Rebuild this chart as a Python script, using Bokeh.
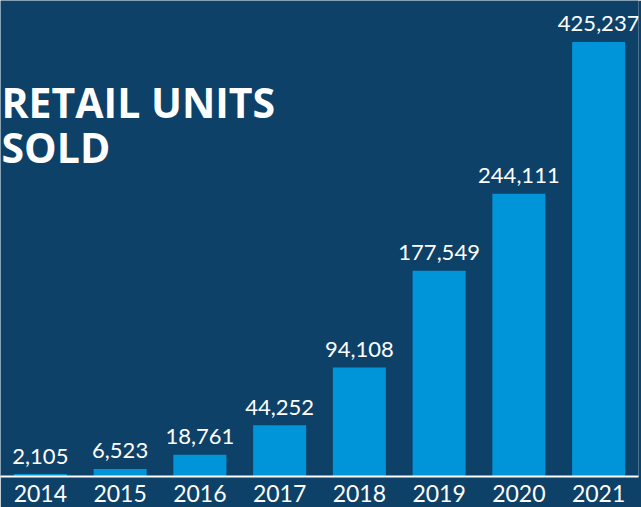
from bokeh.plotting import figure
from bokeh.models import ColumnDataSource, FactorRange, Range1d, Label
from bokeh.core.properties import value
from bokeh.embed import file_html
from bokeh.resources import INLINE

# ---- data ----
years = ["2014", "2015", "2016", "2017", "2018", "2019", "2020", "2021"]
units_sold = [2105, 6523, 18761, 44252, 94108, 177549, 244111, 425237]
# the original graphic truncates the 2021 bar; drawn heights as seen in the picture
bar_heights = [2105, 6523, 18761, 44252, 94108, 177549, 244111, 375000]
labels = [f"{v:,}" for v in units_sold]
title_lines = ["RETAIL UNITS", "SOLD"]

BG = "#0e4168"
BAR = "#0094d8"

W, H = 641, 507
BOTTOM = 31
UNITS_PER_PX = 863.0
frame_h = H - BOTTOM
ymax = frame_h * UNITS_PER_PX

src = ColumnDataSource(dict(x=years, top=bar_heights, label=labels))

p = figure(width=W, height=H, x_range=FactorRange(*years, range_padding=0),
           y_range=Range1d(0, ymax), output_backend="svg", toolbar_location=None,
           min_border_left=0, min_border_right=3, min_border_top=0,
           min_border_bottom=BOTTOM)

p.background_fill_color = BG
p.border_fill_color = BG
p.outline_line_color = None
p.grid.visible = False
p.yaxis.visible = False

p.vbar(x="x", top="top", width=0.665, source=src, color=BAR, line_color=None)

p.text(x="x", y="top", text="label", source=src, text_color="white",
       text_font=value("Lato"), text_font_size="22px", text_align="center",
       text_baseline="alphabetic", y_offset=-18)

ax = p.xaxis[0]
ax.axis_line_color = "white"
ax.axis_line_width = 2
ax.major_tick_line_color = None
ax.minor_tick_line_color = None
ax.major_label_text_color = "white"
ax.major_label_text_font = "Lato"
ax.major_label_text_font_size = "23px"
ax.major_label_text_font_style = "normal"
ax.major_label_standoff = 2

for i, line in enumerate(title_lines):
    base_px = 101 + 45 * i
    p.add_layout(Label(x=0, y=(frame_h - base_px) * UNITS_PER_PX, x_offset=1,
                       text=line, text_color="white", text_font="Open Sans",
                       text_font_size="41px", text_font_style="bold",
                       text_baseline="alphabetic"))

open("out.html", "w").write(file_html(p, INLINE))
